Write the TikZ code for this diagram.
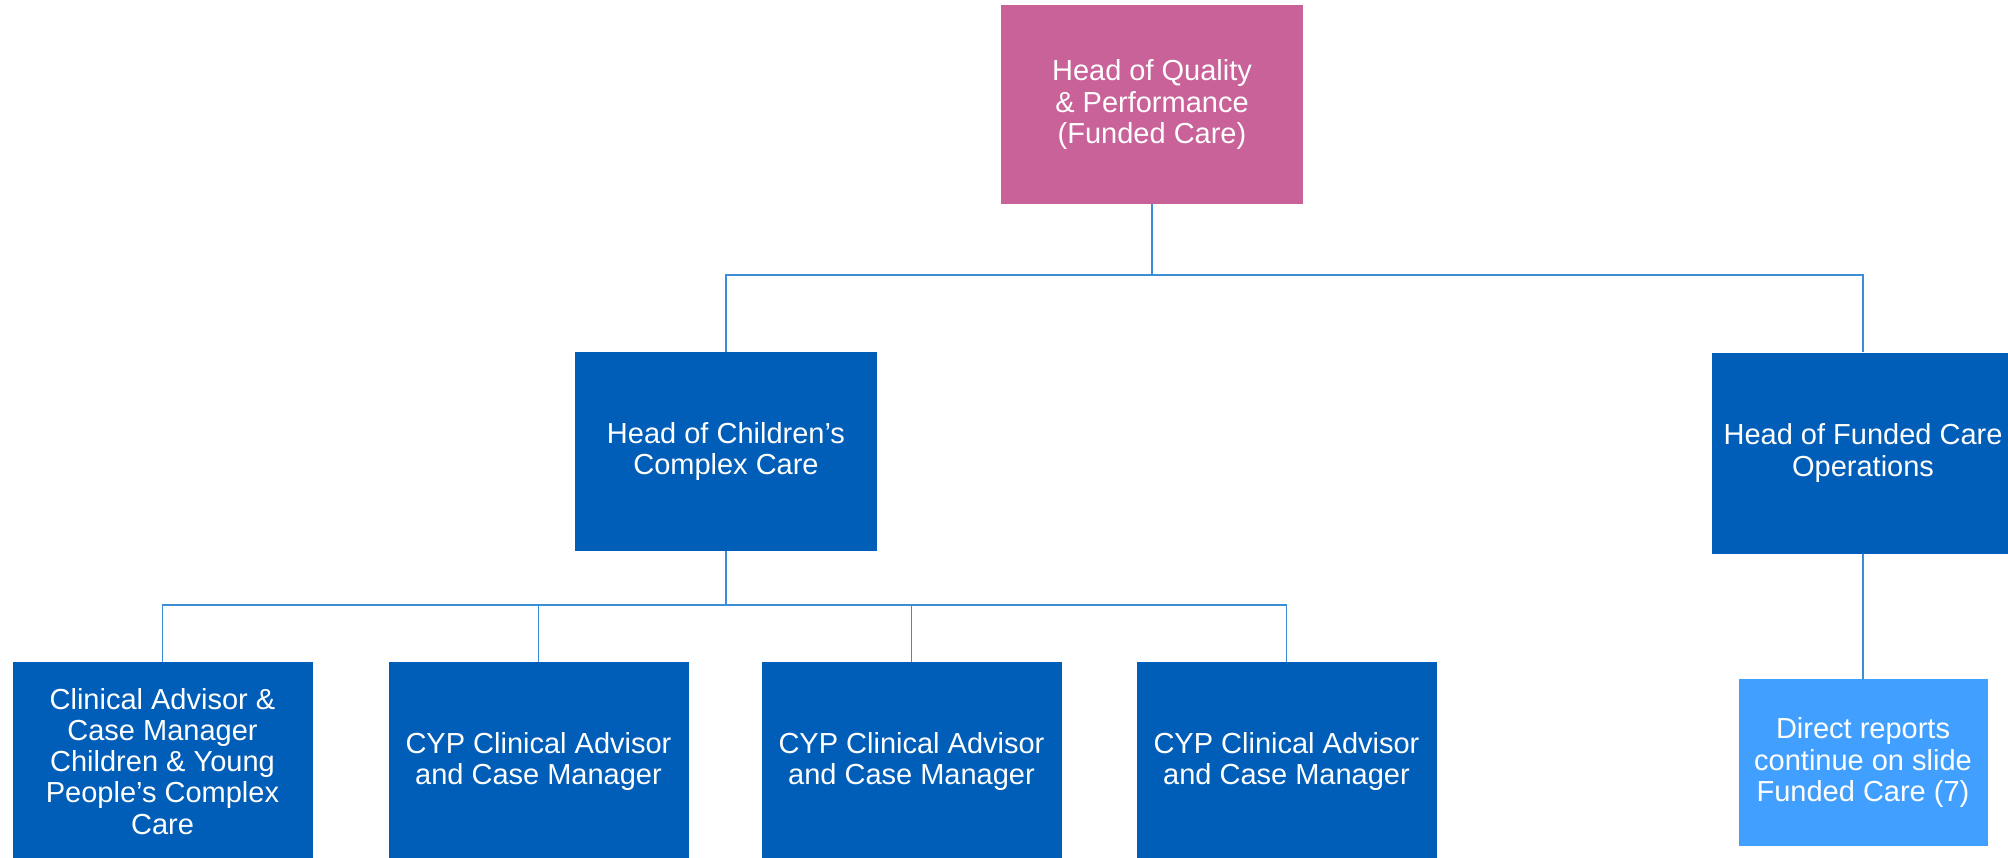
\documentclass[tikz,border=0pt]{standalone}
\usepackage{fontspec}
\setmainfont{Liberation Sans}
\definecolor{pinkbox}{HTML}{C96299}
\definecolor{darkblue}{HTML}{005EB8}
\definecolor{lightblue}{HTML}{41A0FF}
\definecolor{linkblue}{HTML}{3A8DD6}
\begin{document}
\begin{tikzpicture}[x=0.75pt,y=-0.75pt,
  box/.style={rectangle, inner sep=0pt, text=white, align=center,
    font=\fontsize{21.75pt}{23.3pt}\selectfont,
    minimum width=226.5pt, minimum height=149.25pt},
  headbox/.style={box, fill=darkblue},
  link/.style={draw=linkblue, line width=1.2pt}]
\useasboundingbox (0,0) rectangle (2008,857);
\clip (0,0) rectangle (2008,857);
\node[box, fill=pinkbox] (top) at (1152,104.5) {Head of Quality\\\& Performance\\(Funded Care)};
\node[headbox] (children) at (726,451.5) {Head of Children’s\\Complex Care};
\node[headbox, minimum height=150.75pt] (ops) at (1863,453) {Head of Funded Care\\Operations};
\node[headbox, minimum width=225pt] (c1) at (162.5,761.5) {Clinical Advisor \&\\Case Manager\\Children \& Young\\People’s Complex\\Care};
\node[headbox, minimum width=225pt] (c2) at (538.5,761.5) {CYP Clinical Advisor\\and Case Manager};
\node[headbox, minimum width=225pt] (c3) at (911.5,761.5) {CYP Clinical Advisor\\and Case Manager};
\node[headbox, minimum width=225pt] (c4) at (1286.5,761.5) {CYP Clinical Advisor\\and Case Manager};
\node[box, fill=lightblue, minimum width=186.75pt, minimum height=125.25pt] (direct) at (1863,762.5) {Direct reports\\continue on slide\\Funded Care (7)};
\coordinate (bus1) at (0,275);
\coordinate (bus2) at (0,605);
\draw[link] (top.south) -- (top.south |- bus1);
\draw[link] (children.north) -- (children.north |- bus1) -- (ops.north |- bus1) -- (ops.north);
\draw[link] (children.south) -- (children.south |- bus2);
\draw[link] (c1.north) -- (c1.north |- bus2) -- (c4.north |- bus2) -- (c4.north);
\draw[link] (c2.north) -- (c2.north |- bus2);
\draw[link] (c3.north) -- (c3.north |- bus2);
\draw[link] (ops.south) -- (direct.north);
\end{tikzpicture}
\end{document}
